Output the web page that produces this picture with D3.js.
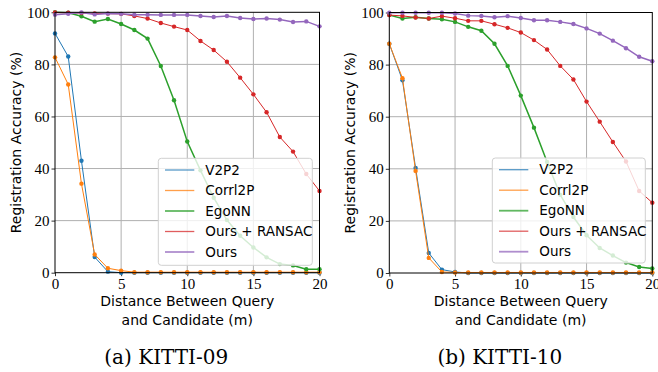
<!DOCTYPE html>
<html>
<head>
<meta charset="utf-8">
<script src="https://cdn.jsdelivr.net/npm/d3@7"></script>
<style>
  body { margin: 0; background: #fff; }
  svg { display: block; }
</style>
</head>
<body>
<div id="chart"></div>
<script>
// distance between query and candidate (m)
const distances = [0, 1, 2, 3, 4, 5, 6, 7, 8, 9, 10, 11, 12, 13, 14, 15, 16, 17, 18, 19, 20];
const methods = ['V2P2', 'Corrl2P', 'EgoNN', 'Ours + RANSAC', 'Ours'];
const xTicks = [0, 5, 10, 15, 20];
const yTicks = [0, 20, 40, 60, 80, 100];

// KITTI-09
const k09V2P2 = [91.9, 83, 43, 6, 0.4, 0, 0, 0, 0, 0, 0, 0, 0, 0, 0, 0, 0, 0, 0, 0, 0];
const k09Corrl2P = [82.7, 72.3, 34.2, 7, 1.7, 0.8, 0.2, 0.2, 0.2, 0.2, 0.2, 0.2, 0.2, 0.2, 0.2, 0.2, 0.2, 0.2, 0.2, 0.2, 0.2];
const k09EgoNN = [100, 99.8, 98.5, 96.4, 97.4, 95.5, 93.2, 89.9, 79.4, 66.2, 50.4, 39.3, 28.8, 20.2, 14.2, 9.7, 5.9, 3.3, 2.8, 1.3, 1.3];
const k09Ransac = [99.9, 99.8, 99.7, 99.6, 99.5, 99.4, 98.6, 97.6, 95.9, 94.5, 93.2, 89, 85.5, 81, 74.9, 68.5, 61.6, 52.1, 46.5, 37.9, 31.4];
const k09Ours = [99.1, 99.4, 99.9, 99.2, 99.5, 99.4, 99.1, 99.1, 99, 99, 99, 98.6, 98.2, 98.6, 97.8, 97.4, 97.6, 97.2, 96.3, 96.5, 94.6];

// KITTI-10
const k10V2P2 = [88, 74, 40.3, 7.7, 1.3, 0.4, 0, 0, 0, 0, 0, 0, 0, 0, 0, 0, 0, 0, 0, 0, 0];
const k10Corrl2P = [88, 74.8, 39.2, 5.8, 0.4, 0.2, 0.2, 0.2, 0.2, 0.2, 0.2, 0.2, 0.2, 0.2, 0.2, 0.2, 0.2, 0.2, 0.2, 0.2, 0.2];
const k10EgoNN = [99, 97.7, 98.2, 97.7, 97.4, 96.4, 94.5, 93, 88, 79.5, 68.1, 55.8, 42.6, 30, 21.5, 14.5, 9.6, 6.7, 4, 2.3, 1.7];
const k10Ransac = [99, 98.7, 98.1, 97.7, 98.6, 97.8, 96.8, 96.8, 95.5, 94.1, 92.3, 89.4, 85.8, 79.5, 74.3, 65.8, 58.1, 50.3, 42.8, 31.5, 27];
const k10Ours = [99.9, 99.9, 99.9, 99.9, 99.9, 99.6, 98.8, 98.7, 98.2, 98.6, 97.9, 97, 97, 96.4, 95.6, 93.9, 91.9, 89.2, 86.3, 83, 81.3];

const colors = ['#1f77b4', '#ff7f0e', '#2ca02c', '#d62728', '#9467bd'];
const widths = [1, 1, 1.5, 1, 1.5];

const width = 658, height = 372;
const svg = d3.select('#chart').append('svg').attr('width', width).attr('height', height);

const panels = [
  { caption: '(a) KITTI-09', series: [k09V2P2, k09Corrl2P, k09EgoNN, k09Ransac, k09Ours],
    left: 55, right: 319.5, top: 12.3, bottom: 272.7, legend: { x: 158.3, y: 158.3, w: 154, h: 107 } },
  { caption: '(b) KITTI-10', series: [k10V2P2, k10Corrl2P, k10EgoNN, k10Ransac, k10Ours],
    left: 389.3, right: 652.3, top: 12.5, bottom: 273, legend: { x: 492.3, y: 158, w: 153, h: 105 } },
];

const serif = '"Liberation Serif", "DejaVu Serif", serif';
const sans = '"DejaVu Sans", sans-serif';

panels.forEach((p) => {
  const x = d3.scaleLinear().domain([0, 20]).range([p.left, p.right]);
  const y = d3.scaleLinear().domain([0, 100]).range([p.bottom, p.top]);
  const g = svg.append('g');

  // grid
  g.append('g')
    .selectAll('line')
    .data(xTicks.slice(1, -1))
    .enter()
    .append('line')
    .attr('x1', (d) => x(d)).attr('x2', (d) => x(d))
    .attr('y1', p.top).attr('y2', p.bottom)
    .attr('stroke', '#b0b0b0').attr('stroke-width', 1);
  g.append('g')
    .selectAll('line')
    .data(yTicks.slice(1, -1))
    .enter()
    .append('line')
    .attr('y1', (d) => y(d)).attr('y2', (d) => y(d))
    .attr('x1', p.left).attr('x2', p.right)
    .attr('stroke', '#b0b0b0').attr('stroke-width', 1);

  // axes
  const xAxis = g.append('g')
    .attr('transform', `translate(0,${p.bottom})`)
    .call(d3.axisBottom(x).tickValues(xTicks).tickSize(3.5).tickPadding(2));
  const yAxis = g.append('g')
    .attr('transform', `translate(${p.left},0)`)
    .call(d3.axisLeft(y).tickValues(yTicks).tickSize(3.5).tickPadding(2));
  [xAxis, yAxis].forEach((a) => {
    a.select('.domain').remove();
    a.selectAll('text').attr('font-family', serif).attr('font-size', 15).attr('fill', '#000');
    a.selectAll('line').attr('stroke', '#000').attr('stroke-width', 0.8);
  });

  // series
  const line = d3.line().x((d, i) => x(distances[i])).y((d) => y(d));
  const clipId = 'clip' + p.left;
  svg.append('clipPath').attr('id', clipId)
    .append('rect').attr('x', p.left - 4).attr('y', p.top - 4)
    .attr('width', p.right - p.left + 8).attr('height', p.bottom - p.top + 8);
  const plot = g.append('g').attr('clip-path', `url(#${clipId})`);
  p.series.forEach((vals, k) => {
    plot.append('path')
      .datum(vals)
      .attr('d', line)
      .attr('fill', 'none')
      .attr('stroke', colors[k])
      .attr('stroke-width', widths[k]);
    plot.append('g')
      .selectAll('circle')
      .data(vals)
      .enter()
      .append('circle')
      .attr('cx', (d, i) => x(distances[i]))
      .attr('cy', (d) => y(d))
      .attr('r', 2.2)
      .attr('fill', colors[k]);
  });

  // frame
  g.append('rect')
    .attr('x', p.left).attr('y', p.top)
    .attr('width', p.right - p.left).attr('height', p.bottom - p.top)
    .attr('fill', 'none').attr('stroke', '#000').attr('stroke-width', 1);

  // legend
  const L = p.legend;
  const lg = g.append('g');
  lg.append('rect')
    .attr('x', L.x).attr('y', L.y).attr('width', L.w).attr('height', L.h)
    .attr('rx', 3)
    .attr('fill', '#fff').attr('fill-opacity', 0.8)
    .attr('stroke', '#d0d0d0').attr('stroke-width', 1);
  methods.forEach((m, k) => {
    const ry = L.y + 11.7 + k * 20.5;
    lg.append('line')
      .attr('x1', L.x + 6.7).attr('x2', L.x + 36)
      .attr('y1', ry).attr('y2', ry)
      .attr('stroke', colors[k]).attr('stroke-width', widths[k] + 0.3)
      .attr('stroke-opacity', 0.75);
    lg.append('text')
      .attr('x', L.x + 47).attr('y', ry)
      .attr('dy', '0.35em')
      .attr('font-family', sans).attr('font-size', 13.5)
      .text(m);
  });

  // labels
  const cx = (p.left + p.right) / 2;
  g.append('text')
    .attr('x', cx).attr('y', 306)
    .attr('text-anchor', 'middle')
    .attr('font-family', sans).attr('font-size', 14)
    .text('Distance Between Query');
  g.append('text')
    .attr('x', cx).attr('y', 325)
    .attr('text-anchor', 'middle')
    .attr('font-family', sans).attr('font-size', 14)
    .text('and Candidate (m)');
  g.append('text')
    .attr('transform', `translate(${p.left - 34},${(p.top + p.bottom) / 2}) rotate(-90)`)
    .attr('text-anchor', 'middle')
    .attr('font-family', sans).attr('font-size', 14)
    .text('Registration Accuracy (%)');
  g.append('text')
    .attr('x', cx - 21).attr('y', 364)
    .attr('text-anchor', 'middle')
    .attr('font-family', '"DejaVu Serif", serif').attr('font-size', 20)
    .text(p.caption);
});
</script>
</body>
</html>
